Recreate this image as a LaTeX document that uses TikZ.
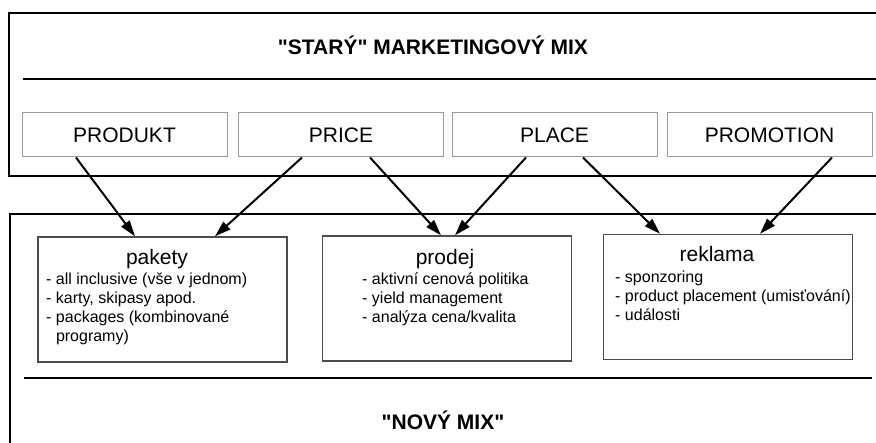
\documentclass[tikz,border=0pt]{standalone}
\usepackage{fontspec}
\setmainfont{Liberation Sans}[Ligatures=TeXOff]
\usetikzlibrary{arrows.meta}

\tikzset{
  frame/.style={line width=2.2pt},
  mixbox/.style={draw=black!40, line width=1pt, minimum width=205pt, minimum height=44pt, inner sep=0pt, font=\fontsize{21}{25}\selectfont},
  toolbox/.style={draw=black!70, line width=1.4pt, minimum width=249pt, minimum height=125pt, inner sep=0pt},
  boxtitle/.style={inner sep=0pt, font=\fontsize{21}{25}\selectfont},
  items/.style={anchor=north west, align=left, inner sep=0pt, font=\fontsize{16}{19}\selectfont},
  heading/.style={inner sep=0pt, font=\fontsize{21}{25}\selectfont\bfseries},
  mixarrow/.style={-{Triangle[length=16pt,width=10pt]}, line width=2pt},
}

\begin{document}
\begin{tikzpicture}[x=1pt,y=-1pt]
  \useasboundingbox (0,0) rectangle (876,443);
  \clip (0,0) rectangle (876,443);

  % Old mix frame
  \draw[frame] (885,13) -| (9,176) -- (885,176);
  \draw[frame] (23,79) -- (885,79);
  \node[heading] (oldmix) at (433,45) {"STARÝ" MARKETINGOVÝ MIX};

  % The 4 P
  \node[mixbox] (produkt) at (124.5,135) {PRODUKT};
  \node[mixbox] (price) at (341,135) {PRICE};
  \node[mixbox] (place) at (554.5,135) {PLACE};
  \node[mixbox] (promotion) at (769.5,135) {PROMOTION};

  % New mix frame
  \draw[frame] (885,214) -| (10,450);
  \draw[frame] (24,378) -- (872,378);
  \node[heading] (newmix) at (443,420) {"NOVÝ MIX"};

  % Tools of the new mix
  \node[toolbox] (pakety) at (162.5,299.5) {};
  \node[boxtitle] (paketytitle) at (157,259) {pakety};
  \node[items] (paketyitems) at (46,273) {- all inclusive (vše v jednom)\\- karty, skipasy apod.\\- packages (kombinované\\\hspace*{9.8pt}programy)};

  \node[toolbox] (prodej) at (447,298.5) {};
  \node[boxtitle] (prodejtitle) at (445,259) {prodej};
  \node[items] (prodejitems) at (362,273) {- aktivní cenová politika\\- yield management\\- analýza cena/kvalita};

  \node[toolbox] (reklama) at (728,297) {};
  \node[boxtitle] (reklamatitle) at (717,254) {reklama};
  \node[items] (reklamaitems) at (615,271) {- sponzoring\\- product placement (umisťování)\\- události};

  % Arrows
  \draw[mixarrow] ([xshift=-48.5pt]produkt.south) -- ([xshift=-27.5pt]pakety.north);
  \draw[mixarrow] ([xshift=-39pt]price.south) -- ([xshift=52.5pt]pakety.north);
  \draw[mixarrow] ([xshift=29pt]price.south) -- ([xshift=-6pt]prodej.north);
  \draw[mixarrow] ([xshift=-28.5pt]place.south) -- ([xshift=8pt]prodej.north);
  \draw[mixarrow] ([xshift=28.5pt]place.south) -- ([xshift=-68pt]reklama.north);
  \draw[mixarrow] ([xshift=62.5pt]promotion.south) -- ([xshift=32pt]reklama.north);
\end{tikzpicture}
\end{document}
